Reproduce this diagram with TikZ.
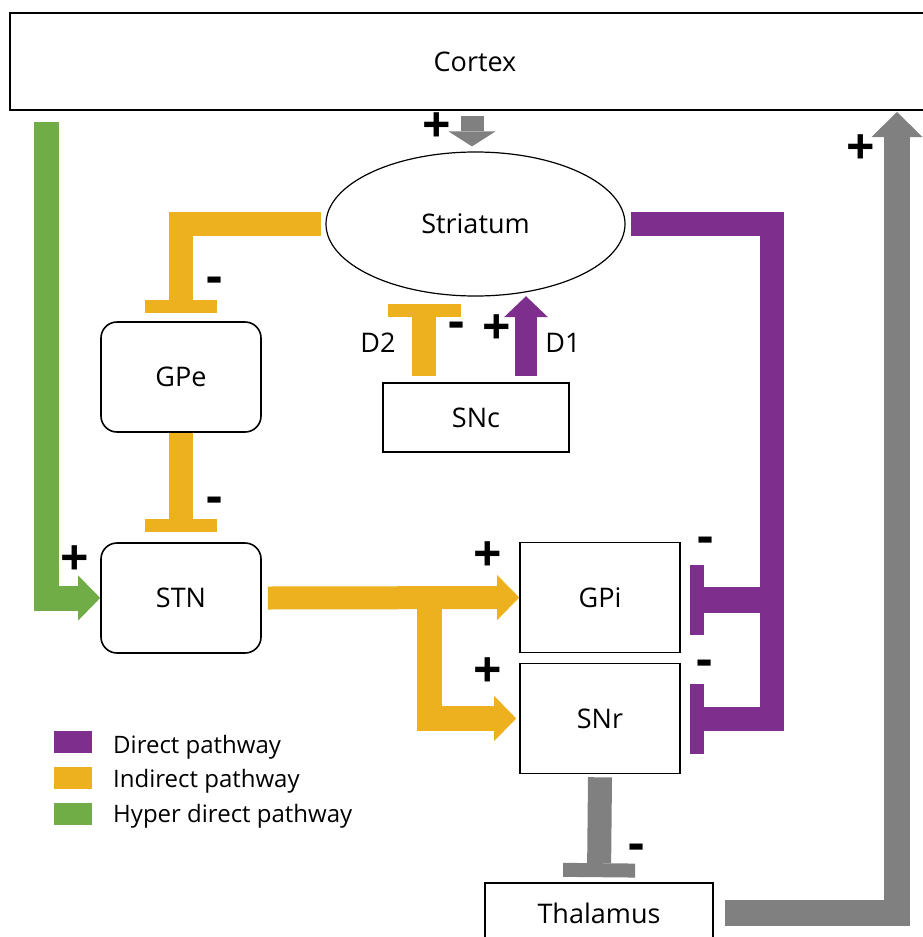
\documentclass[tikz,border=0pt]{standalone}
\usepackage{fontspec}
\setmainfont{Open Sans}
\usetikzlibrary{arrows.meta,shapes.geometric,calc}
\definecolor{dirc}{HTML}{7E2F8E}
\definecolor{indc}{HTML}{EDB120}
\definecolor{hypc}{HTML}{70AD47}
\definecolor{grayc}{HTML}{808080}
\newcommand\labfont{\fontsize{27}{32}\selectfont}
\newcommand\legfont{\fontsize{24}{28}\selectfont}
\newcommand\sgnfont{\fontsize{50}{50}\selectfont\bfseries}
\begin{document}
\begin{tikzpicture}[x=1pt,y=-1pt,
  box/.style={draw, line width=1.6pt, minimum width=160pt, minimum height=110pt, inner sep=0pt, font=\labfont},
  rbox/.style={box, rounded corners=16pt},
  flow/.style={line width=24pt},
  ind/.style={flow, draw=indc},
  dirp/.style={flow, draw=dirc},
  hyp/.style={flow, draw=hypc},
  gry/.style={flow, draw=grayc},
  arr/.style={-{Triangle[width=45pt,length=22pt,line width=0pt]}},
  tbar/.style={-{Rectangle[width=72pt,length=13pt,line width=0pt]}},
  sgn/.style={inner sep=0pt, font=\sgnfont},
  lbl/.style={inner sep=0pt, font=\labfont},
  legbox/.style={minimum width=38pt, minimum height=22pt, inner sep=0pt},
  legtxt/.style={anchor=base west, inner sep=0pt, font=\legfont}]
\useasboundingbox (0,0) rectangle (923,937);
\fill[white] (0,0) rectangle (923,937);

% nodes
\node[box, minimum width=930pt, minimum height=97pt] (cortex) at (475,61.5) {Cortex};
\node[ellipse, draw, line width=1.2pt, minimum width=299pt, minimum height=144pt, inner sep=0pt, font=\labfont] (striatum) at (475.5,224) {Striatum};
\node[rbox] (gpe) at (181,377) {GPe};
\node[rbox] (stn) at (181,598) {STN};
\node[box, minimum width=186pt, minimum height=69pt] (snc) at (476,417.5) {SNc};
\node[box] (gpi) at (600,597.5) {GPi};
\node[box] (snr) at (600,718.5) {SNr};
\node[box, minimum width=228pt, minimum height=60pt] (thal) at (599,913) {Thalamus};

\coordinate (hypstart) at (46.5,122);
\coordinate (brk) at (429.5,597.5);
\coordinate (pcorner) at (772,718.5);
\coordinate (gtop) at (897,112);

% cortex -> striatum
\draw[gry, line width=23pt, -{Triangle[width=47pt,length=15pt,line width=0pt]}]
  ([xshift=-3pt,yshift=-5pt]cortex.south) -- ([xshift=-3.5pt,yshift=5pt]striatum.north);
% striatum -> GPe
\draw[ind, tbar] ([xshift=-4pt]striatum.west) -| ([yshift=8pt]gpe.north);
% GPe -> STN
\draw[ind, tbar] (gpe.south) -- ([yshift=10pt]stn.north);
% hyperdirect
\draw[hyp, line width=25pt, arr] (hypstart) |- (stn.west);
% STN -> GPi, SNr
\draw[ind, line width=23pt, arr] ([xshift=6pt]stn.east) -- (gpi.west);
\draw[ind, line width=25pt, arr] (brk) |- ([xshift=-3pt]snr.west);
% striatum -> GPi, SNr (direct)
\draw[dirp, -{Rectangle[width=70pt,length=14pt,line width=0pt]}] ([xshift=5pt]striatum.east) -| (pcorner) -- ([xshift=9pt]snr.east);
\draw[dirp, line width=26pt, -{Rectangle[width=70pt,length=14pt,line width=0pt]}] ([yshift=-2.5pt]gpi.east -| pcorner) -- ([xshift=9pt,yshift=-2.5pt]gpi.east);
% SNc -> striatum
\draw[ind, -{Rectangle[width=73pt,length=13pt,line width=0pt]}] ([xshift=-52pt,yshift=6pt]snc.north) -- ++(0,-72);
\draw[dirp, line width=22pt, -{Triangle[width=44pt,length=21pt,line width=0pt]}] ([xshift=50pt,yshift=6pt]snc.north) -- ++(0,-80);
% SNr -> thalamus
\draw[gry, -{Rectangle[width=72pt,length=14pt,line width=0pt]}] ([yshift=-3pt]snr.south) -- ([yshift=5pt]thal.north);
% thalamus -> cortex
\draw[gry, line width=26pt, -{Triangle[width=51pt,length=25pt,line width=0pt]}] ([xshift=11pt]thal.east) -| (gtop);

% signs
\node[sgn] (s1) at (437,128) {+};
\node[sgn] (s2) at (861,150) {+};
\node[sgn] (s3) at (215,285) {-};
\node[sgn] (s4) at (215,505) {-};
\node[sgn] (s5) at (75,561) {+};
\node[sgn] (s6) at (488,557) {+};
\node[sgn] (s7) at (488,673) {+};
\node[sgn] (s8) at (706,545) {-};
\node[sgn] (s9) at (705,668) {-};
\node[sgn] (s10) at (637,852) {-};
\node[sgn] (s11) at (457,330) {-};
\node[sgn] (s12) at (497,330) {+};
\node[lbl] (d2) at (378,343) {D2};
\node[lbl] (d1) at (563,343) {D1};

% legend
\node[legbox, fill=dirc] (ld) at (73,742) {};
\node[legbox, fill=indc] (li) at (73,777.5) {};
\node[legbox, fill=hypc] (lh) at (73,813.5) {};
\node[legtxt] (ldt) at (113,753) {Direct pathway};
\node[legtxt] (lit) at (113,787.5) {Indirect pathway};
\node[legtxt] (lht) at (113,822) {Hyper direct pathway};
\end{tikzpicture}
\end{document}
